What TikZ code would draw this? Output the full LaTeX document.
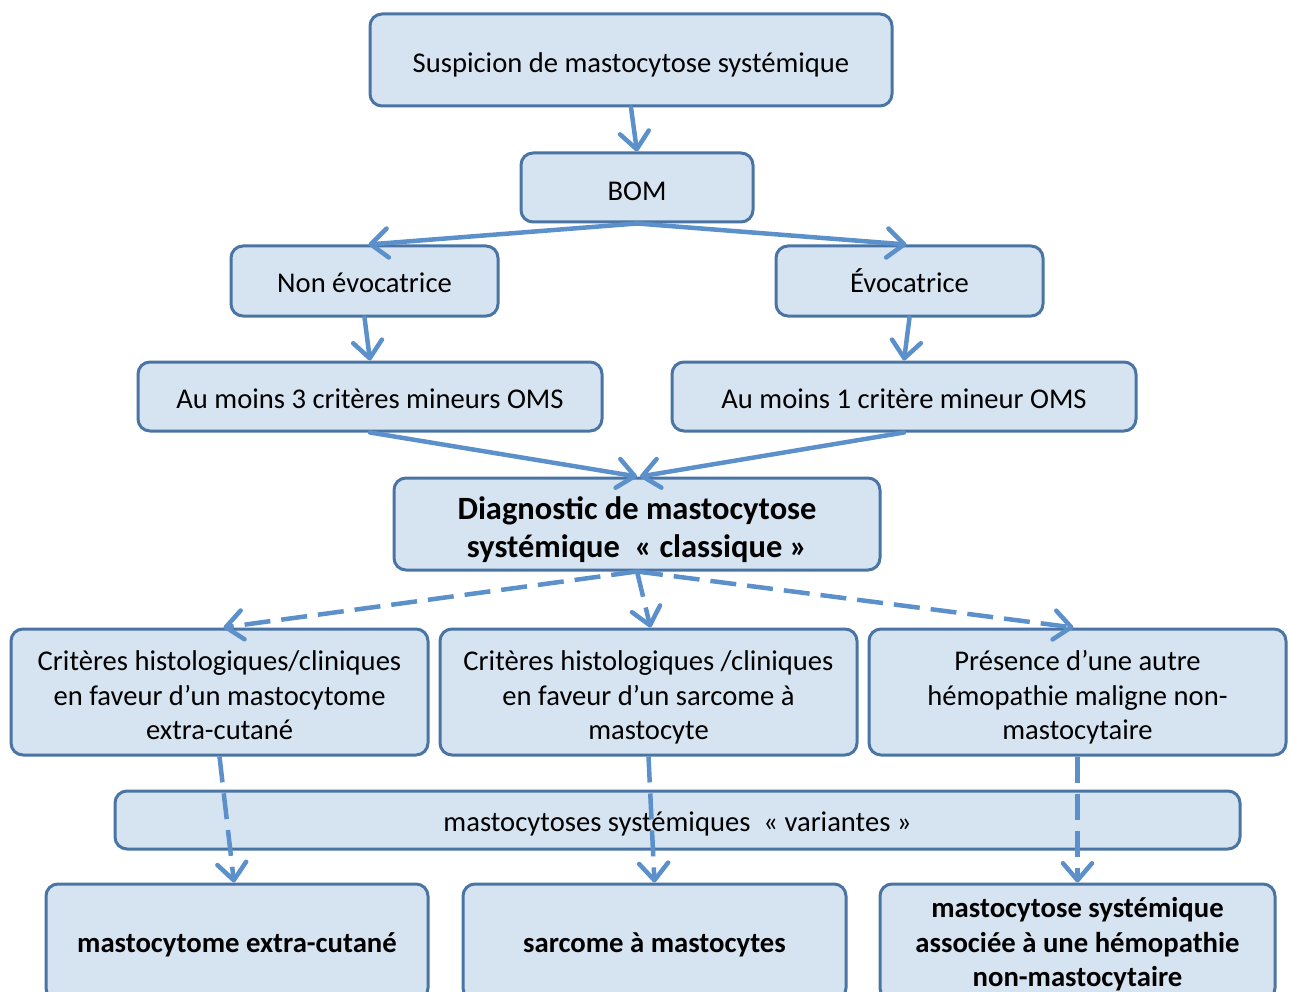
\documentclass[tikz,border=0pt]{standalone}
\usepackage{fontspec}
\setmainfont{Carlito}
\usetikzlibrary{arrows.meta}
\definecolor{boxfill}{HTML}{D6E3F0}
\definecolor{boxline}{HTML}{4A74A4}
\definecolor{linkcol}{HTML}{5B90CB}
% centred stack of lines whose baseline is the last line
\newcommand{\stack}[1]{\begin{tabular}[b]{@{}c@{}}#1\end{tabular}}
\begin{document}
\begin{tikzpicture}[x=1pt,y=-1pt,
  box/.style={draw=boxline, line width=3pt, fill=boxfill, rounded corners=12pt,
    inner sep=0pt, font=\fontsize{28.6}{34.5}\selectfont},
  bbox/.style={box, font=\fontsize{28.7}{34.5}\selectfont\bfseries},
  link/.style={draw=linkcol, line width=4.5pt, line cap=round,
    -{Straight Barb[length=17pt,width=29pt,round]}},
  dlink/.style={link, line cap=butt, dash pattern=on 26pt off 11pt}]
\useasboundingbox (0,0) rectangle (1290,992);

% top chain (text height / depth place the baseline inside each box)
\node[box, minimum width=522pt, text height=58.7pt, text depth=33.3pt] (susp) at (631,60)
  {Suspicion de mastocytose systémique};
\node[box, minimum width=232pt, text height=47.3pt, text depth=21.7pt] (bom) at (637,187.5) {BOM};
\node[box, minimum width=267pt, text height=47pt, text depth=23pt] (nonevo) at (364.5,281) {Non évocatrice};
\node[box, minimum width=267pt, text height=47pt, text depth=23pt] (evo) at (909.5,281) {Évocatrice};
\node[box, minimum width=464pt, text height=46.5pt, text depth=22.5pt] (trois) at (370,396.5)
  {Au moins 3 critères mineurs OMS};
\node[box, minimum width=464pt, text height=46.5pt, text depth=22.5pt] (un) at (904,396.5)
  {Au moins 1 critère mineur OMS};
\node[box, minimum width=486pt, text height=79pt, text depth=13pt,
  font=\fontsize{32.5}{37.7}\selectfont\bfseries] (diag) at (637,524)
  {\stack{Diagnostic de mastocytose\\systémique\ \ « classique »}};

% criteria row
\node[box, minimum width=417pt, text height=110.7pt, text depth=15.3pt] (crit1) at (219.5,692)
  {\stack{Critères histologiques/cliniques\\en faveur d’un mastocytome\\extra-cutané}};
\node[box, minimum width=417pt, text height=110.7pt, text depth=15.3pt] (crit2) at (648.5,692)
  {\stack{Critères histologiques /cliniques\\en faveur d’un sarcome à\\mastocyte}};
\node[box, minimum width=417pt, text height=110.7pt, text depth=15.3pt] (crit3) at (1077.5,692)
  {\stack{Présence d’une autre\\hémopathie maligne non-\\mastocytaire}};

% variants band
\node[box, minimum width=1125pt, text height=40.5pt, text depth=17.5pt] (var) at (677.5,820)
  {mastocytoses systémiques\ \ « variantes »};

% outcomes
\node[bbox, minimum width=382pt, text height=68pt, text depth=48pt] (out1) at (237,942)
  {mastocytome extra-cutané};
\node[bbox, minimum width=383pt, text height=68pt, text depth=48pt] (out2) at (654.5,942)
  {sarcome à mastocytes};
\node[bbox, minimum width=395pt, text height=102.5pt, text depth=13.5pt] (out3) at (1077.5,942)
  {\stack{mastocytose systémique\\associée à une hémopathie\\non-mastocytaire}};

% solid connectors
\draw[link] (susp.south) -- (bom.north);
\draw[link] (bom.south) -- ([xshift=4pt]nonevo.north);
\draw[link] (bom.south) -- ([xshift=-3pt]evo.north);
\draw[link] (nonevo.south) -- (trois.north);
\draw[link] (evo.south) -- (un.north);
\draw[link] (trois.south) -- (diag.north);
\draw[link] (un.south) -- ([xshift=3pt]diag.north);

% dashed connectors
\draw[dlink] (diag.south) -- ([xshift=4pt]crit1.north);
\draw[dlink] (diag.south) -- ([xshift=2pt]crit2.north);
\draw[dlink] (diag.south) -- ([xshift=-4pt]crit3.north);
\draw[dlink] (crit1.south) -- ([xshift=-3pt]out1.north);
\draw[dlink] (crit2.south) -- (out2.north);
\draw[dlink] (crit3.south) -- (out3.north);
\end{tikzpicture}
\end{document}
